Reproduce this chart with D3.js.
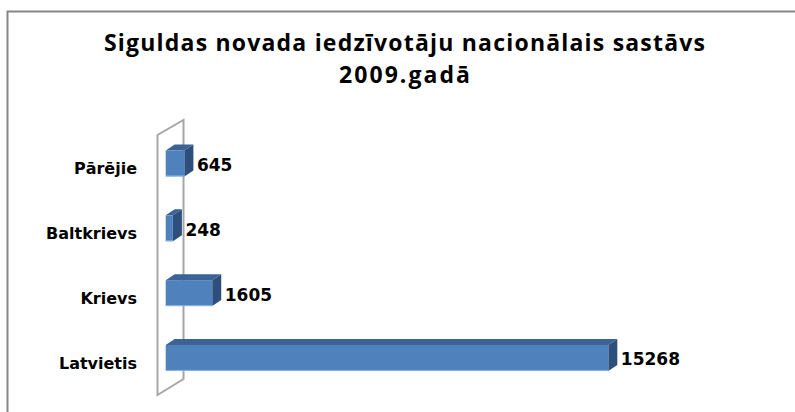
<!DOCTYPE html>
<html>
<head>
<meta charset="utf-8">
<script src="https://cdn.jsdelivr.net/npm/d3@7/dist/d3.min.js"></script>
<style>
	body{ margin:0; background:#fff; }
	svg{ display:block; }
	.title{ font-family:'Open Sans', Lato, sans-serif; font-weight:bold; fill:#000; }
	.cat text{ font-family:'DejaVu Sans', Verdana, sans-serif; font-weight:bold; font-size:16px; fill:#000; }
	.val{ font-family:'DejaVu Sans', Verdana, sans-serif; font-weight:bold; font-size:17px; fill:#000; }
</style>
</head>
<body>
<svg id="chart" width="795" height="412"></svg>
<script>
/* dati */
var categories = ['Pārējie', 'Baltkrievs', 'Krievs', 'Latvietis'];
var values = [645, 248, 1605, 15268];
var titleLines = ['Siguldas novada iedzīvotāju nacionālais sastāvs', '2009.gadā'];
var titleWidths = [601, 131];

var W = 795, H = 412
	,depthX = 9 ,depthY = -6
	,colors = { front:'#4f81bd', top:'#3b6395', side:'#2e4f7b' };

var svg = d3.select('#chart');

// ramis (tikai augša un kreisā mala redzama)
svg.append('path')
	.attr('d','M7.5,'+H+' L7.5,11.5 L'+W+',11.5')
	.attr('fill','none')
	.attr('stroke','#878787')
	.attr('stroke-width',2);

// virsraksts
var title = svg.append('text').attr('class','title')
	.attr('text-anchor','middle')
	.style('font-size','23px');
titleLines.forEach(function(l, i){
	var ts = title.append('tspan').attr('x',404.5).attr('y',51 + i*32).text(l);
	// izstiepj rindu līdz oriģināla platumam
	if( ts.node().getComputedTextLength() < titleWidths[i] ){
		ts.attr('textLength',titleWidths[i]).attr('lengthAdjust','spacing');
	}
});

var x = d3.scaleLinear()
	.domain([0, 16000])
	.range([165.7, 165.7 + 16000*0.02899]);

var y = d3.scaleBand()
	.domain(categories)
	.range([111.6, 409.8])
	.paddingInner(0.6)
	.paddingOuter(0.6);

// sāna siena
var wx0 = 157.5, wx1 = 183.5;
svg.append('path')
	.attr('d','M'+wx0+',135 L'+wx1+',120 L'+wx1+',379 L'+wx0+',395 Z')
	.attr('fill','#fff')
	.attr('stroke','#a6a6a6')
	.attr('stroke-width',2)
	.attr('stroke-linejoin','miter');

// stabiņi
var bars = svg.append('g').selectAll('g')
	.data(categories)
	.enter().append('g');

bars.each(function(c, i){
	var g = d3.select(this)
		,x0 = x(0) ,x1 = x(values[i])
		,y0 = y(c) ,y1 = y0 + y.bandwidth();
	// augša
	g.append('path')
		.attr('d','M'+x0+','+y0+' L'+(x0+depthX)+','+(y0+depthY)+' L'+(x1+depthX)+','+(y0+depthY)+' L'+x1+','+y0+' Z')
		.attr('fill',colors.top);
	// sāns
	g.append('path')
		.attr('d','M'+x1+','+y0+' L'+(x1+depthX)+','+(y0+depthY)+' L'+(x1+depthX)+','+(y1+depthY)+' L'+x1+','+y1+' Z')
		.attr('fill',colors.side);
	// priekša
	g.append('rect')
		.attr('x',x0).attr('y',y0)
		.attr('width',x1-x0).attr('height',y1-y0)
		.attr('fill',colors.front);
	g.append('line')
		.attr('x1',x0).attr('x2',x1)
		.attr('y1',y1-0.5).attr('y2',y1-0.5)
		.attr('stroke','#8db3e2').attr('stroke-width',1);
});

// vērtības
svg.append('g').selectAll('text')
	.data(categories)
	.enter().append('text')
	.attr('class','val')
	.attr('x',function(d, i){ return x(values[i]) + depthX + 3.5; })
	.attr('y',function(d){ return y(d) + y.bandwidth()/2 + 7.5; })
	.text(function(d, i){ return values[i]; });

// kategoriju nosaukumi
var yAxis = d3.axisLeft(y).tickSize(0).tickPadding(0);
var gY = svg.append('g')
	.attr('class','cat')
	.attr('transform','translate(137,5.5)')
	.call(yAxis);
gY.select('.domain').remove();
gY.selectAll('text').attr('font-family',null).attr('font-size',null);
</script>
</body>
</html>
